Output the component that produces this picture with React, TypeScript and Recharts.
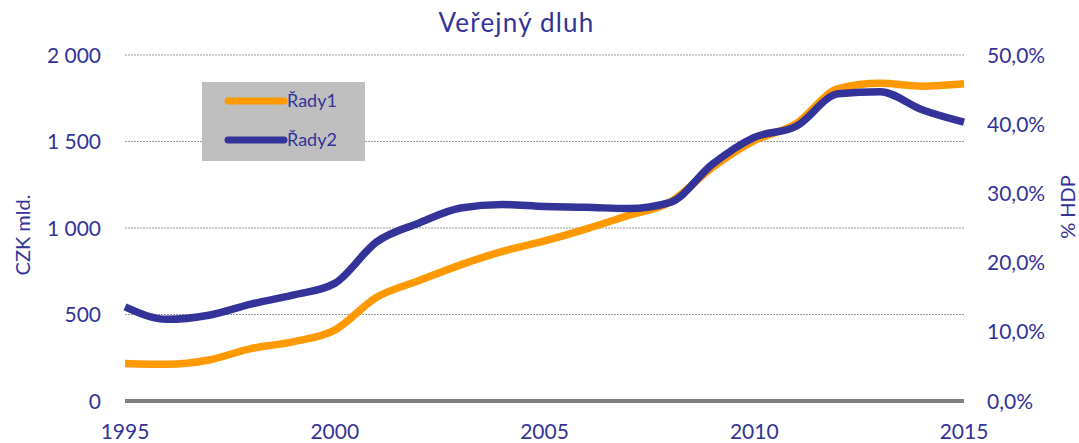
import React from "react";
import { LineChart, Line, XAxis, YAxis, CartesianGrid, Legend } from "recharts";

const years = [1995, 1996, 1997, 1998, 1999, 2000, 2001, 2002, 2003, 2004, 2005, 2006, 2007, 2008, 2009, 2010, 2011, 2012, 2013, 2014, 2015];
const rady1 = [217, 212, 237, 303, 342, 410, 600, 695, 787, 865, 925, 995, 1072, 1150, 1350, 1505, 1603, 1805, 1836, 1820, 1834];
const rady2 = [13.6, 11.8, 12.4, 14.0, 15.3, 17.0, 23.0, 25.7, 27.9, 28.4, 28.1, 28.0, 27.8, 28.7, 34.2, 38.1, 39.7, 44.4, 44.7, 42.1, 40.3];

const xTicks = [1995, 2000, 2005, 2010, 2015];
const leftTicks = [0, 500, 1000, 1500, 2000];
const rightTicks = [0, 10, 20, 30, 40, 50];

const title = "Veřejný dluh";
const leftLabel = "CZK mld.";
const rightLabel = "% HDP";
const seriesNames = ["Řady1", "Řady2"];

const data = years.map((y, i) => ({ year: y, r1: rady1[i], r2: rady2[i] }));

const FONT = "Lato, 'Open Sans', sans-serif";
const TEXT = "#333399";
const ORANGE = "#FF9900";
const BLUE = "#333399";

const fmtLeft = (v: number) => {
  if (v >= 1000) {
    const s = String(v);
    return s.slice(0, s.length - 3) + " " + s.slice(s.length - 3);
  }
  return String(v);
};
const fmtRight = (v: number) => v.toFixed(1).replace(".", ",") + "%";

const XTick = (props: any) => {
  const { x, y, payload } = props;
  return (
    <text x={x} y={y + 38} textAnchor="middle" fill={TEXT} fontSize={21} fontFamily={FONT}>
      {payload.value}
    </text>
  );
};

const LeftTick = (props: any) => {
  const { x, y, payload } = props;
  return (
    <text x={x - 24} y={y} dy="0.36em" textAnchor="end" fill={TEXT} fontSize={21} fontFamily={FONT}>
      {fmtLeft(payload.value)}
    </text>
  );
};

const RightTick = (props: any) => {
  const { x, y, payload } = props;
  return (
    <text x={x + 23} y={y} dy="0.36em" textAnchor="start" fill={TEXT} fontSize={21} fontFamily={FONT}>
      {fmtRight(payload.value)}
    </text>
  );
};

const LegendBox = (props: any) => {
  const payload = props.payload || [];
  return (
    <div style={{ width: 163, height: 79, background: "#BFBFBF", position: "relative" }}>
      {payload.map((p: any, i: number) => {
        const cy = i === 0 ? 19 : 58;
        return (
          <div key={i}>
            <svg style={{ position: "absolute", left: 22, top: cy - 6 }} width={64} height={12}>
              <line x1={4} y1={6} x2={60} y2={6} stroke={p.color} strokeWidth={7} strokeLinecap="round" />
            </svg>
            <span
              style={{
                position: "absolute",
                left: 85,
                top: cy - 12,
                fontFamily: FONT,
                fontSize: 18,
                color: TEXT,
                lineHeight: "22px",
                whiteSpace: "nowrap",
              }}
            >
              {p.value}
            </span>
          </div>
        );
      })}
    </div>
  );
};

export default function App() {
  return (
    <div style={{ position: "absolute", left: 0, top: 0, width: 1079, height: 443, background: "#fff" }}>
      <LineChart width={1079} height={443} data={data} margin={{ top: 55, right: 0, bottom: 0, left: 0 }}>
        <CartesianGrid horizontal={true} vertical={false} stroke="#9a9a9a" strokeDasharray="2 1" yAxisId="left" />
        <XAxis
          dataKey="year"
          type="number"
          domain={[1995, 2015]}
          ticks={xTicks}
          height={42}
          tickSize={0}
          tickMargin={0}
          tickLine={false}
          axisLine={{ stroke: "#808080", strokeWidth: 4 }}
          tick={<XTick />}
          interval={0}
        />
        <YAxis
          yAxisId="left"
          orientation="left"
          width={125}
          domain={[0, 2000]}
          ticks={leftTicks}
          tickSize={0}
          tickMargin={0}
          tickLine={false}
          axisLine={false}
          tick={<LeftTick />}
          interval={0}
        />
        <YAxis
          yAxisId="right"
          orientation="right"
          width={115}
          domain={[0, 50]}
          ticks={rightTicks}
          tickSize={0}
          tickMargin={0}
          tickLine={false}
          axisLine={false}
          tick={<RightTick />}
          interval={0}
        />
        <Legend
          layout="horizontal"
          align="center"
          verticalAlign="middle"
          content={<LegendBox />}
          wrapperStyle={{ position: "absolute", left: 202, top: 82, width: 163, height: 79 }}
        />
        <Line
          yAxisId="left"
          type="monotone"
          dataKey="r1"
          name={seriesNames[0]}
          stroke={ORANGE}
          strokeWidth={7.5}
          dot={false}
          activeDot={false}
          isAnimationActive={false}
        />
        <Line
          yAxisId="right"
          type="monotone"
          dataKey="r2"
          name={seriesNames[1]}
          stroke={BLUE}
          strokeWidth={7.5}
          dot={false}
          activeDot={false}
          isAnimationActive={false}
        />
      </LineChart>
      <svg
        width={1079}
        height={443}
        style={{ position: "absolute", left: 0, top: 0, pointerEvents: "none" }}
      >
        <text x={516.5} y={31.5} textAnchor="middle" fill={TEXT} fontSize={26} letterSpacing={1.2} fontFamily={FONT}>
          {title}
        </text>
        <text
          x={0}
          y={0}
          transform="translate(23,235) rotate(-90)"
          textAnchor="middle"
          dy="0.36em"
          fill={TEXT}
          fontSize={20}
          fontFamily={FONT}
        >
          {leftLabel}
        </text>
        <text
          x={0}
          y={0}
          transform="translate(1068,207) rotate(-90)"
          textAnchor="middle"
          dy="0.36em"
          fill={TEXT}
          fontSize={20}
          fontFamily={FONT}
        >
          {rightLabel}
        </text>
      </svg>
    </div>
  );
}
